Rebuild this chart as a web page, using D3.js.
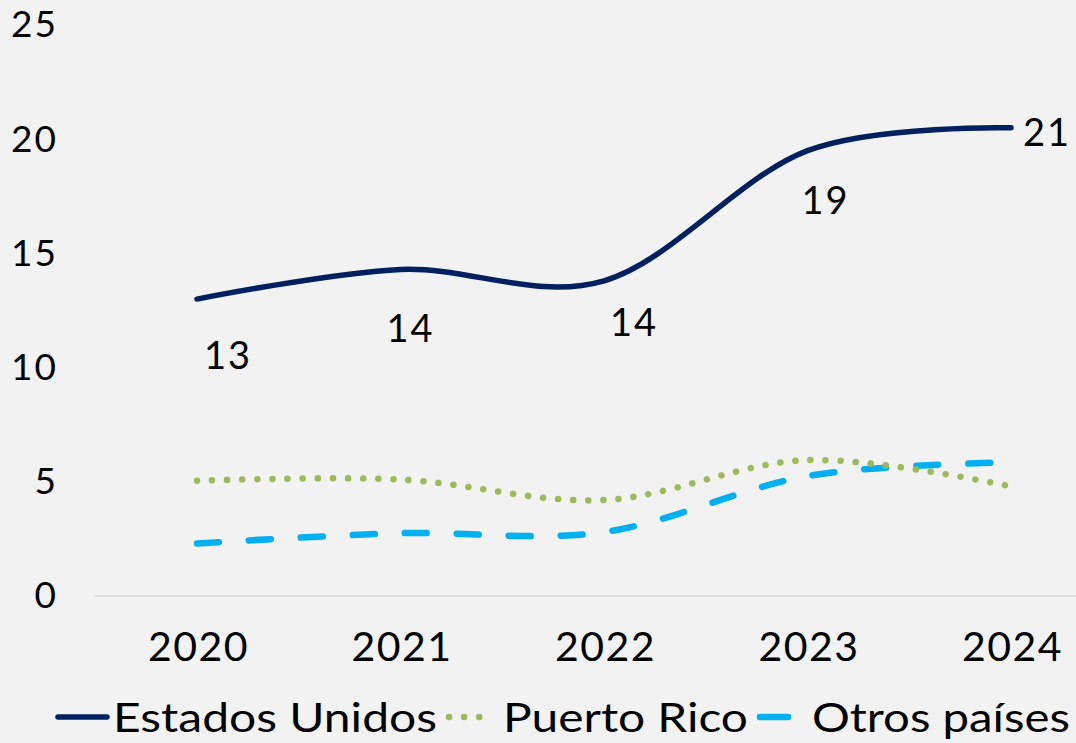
<!DOCTYPE html>
<html>
<head>
<meta charset="utf-8">
<script src="https://cdn.jsdelivr.net/npm/d3@7"></script>
<style>
  html, body { margin: 0; padding: 0; background: #f2f2f2; }
  svg { display: block; font-family: "Lato", "Noto Sans", sans-serif; }
</style>
</head>
<body>
<svg id="chart" width="1076" height="743"></svg>
<script>
const years = ["2020", "2021", "2022", "2023", "2024"];
const estadosUnidos = [13.0, 14.3, 13.8, 19.5, 20.5];
const puertoRico = [5.05, 5.1, 4.2, 5.95, 4.8];
const otrosPaises = [2.3, 2.75, 2.8, 5.25, 5.85];
const yTicks = [0, 5, 10, 15, 20, 25];
const euLabels = ["13", "14", "14", "19", "21"];

// label nudges (px), like the manually dragged excel labels
const labelOffsets = [[31, 55], [10, 58], [30, 40], [18, 48], [36, 3]];

const width = 1076, height = 743;
const svg = d3.select("#chart");

svg.append("rect").attr("width", width).attr("height", height).attr("fill", "#f2f2f2");

const x = d3.scalePoint(years, [197, 1011]);
const y = d3.scaleLinear([0, 25], [596, 25]);

// baseline
svg.append("line")
  .attr("x1", 95).attr("x2", width)
  .attr("y1", y(0)).attr("y2", y(0))
  .attr("stroke", "#d9d9d9").attr("stroke-width", 1.5);

// y axis labels
svg.append("g")
  .attr("transform", "translate(58,0)")
  .call(d3.axisLeft(y).tickValues(yTicks).tickSize(0).tickPadding(0))
  .call(g => g.select(".domain").remove())
  .call(g => g.selectAll("text")
    .attr("font-family", "Lato, sans-serif")
    .attr("font-size", 37)
    .attr("letter-spacing", 2)
    .attr("fill", "#000"));

// x axis labels
svg.append("g")
  .attr("transform", `translate(1,${y(0)})`)
  .call(d3.axisBottom(x).tickSize(0).tickPadding(36))
  .call(g => g.select(".domain").remove())
  .call(g => g.selectAll("text")
    .attr("font-family", "Lato, sans-serif")
    .attr("font-size", 41)
    .attr("letter-spacing", 1.5)
    .attr("fill", "#000"));

const line = d3.line()
  .x((d, i) => x(years[i]))
  .y(d => y(d))
  .curve(d3.curveCardinal.tension(0));

const series = [
  {name: "Estados Unidos", values: estadosUnidos, color: "#002060", dash: null},
  {name: "Puerto Rico", values: puertoRico, color: "#9bbb59", dash: "0.1 15"},
  {name: "Otros países", values: otrosPaises, color: "#00b0f0", dash: "22 30"}
];

svg.append("g")
  .attr("fill", "none")
  .attr("stroke-linecap", "round")
  .attr("stroke-linejoin", "round")
  .selectAll("path")
  .data(series.slice().reverse())
  .join("path")
    .attr("stroke", d => d.color)
    .attr("stroke-width", d => d.dash ? 6.5 : 5.5)
    .attr("stroke-dasharray", d => d.dash)
    .attr("d", d => line(d.values));

// data labels for Estados Unidos
svg.append("g")
  .selectAll("text")
  .data(estadosUnidos)
  .join("text")
    .attr("x", (d, i) => x(years[i]) + labelOffsets[i][0])
    .attr("y", (d, i) => y(d) + labelOffsets[i][1])
    .attr("text-anchor", "middle")
    .attr("dominant-baseline", "central")
    .attr("font-size", 38)
    .attr("letter-spacing", 2)
    .attr("fill", "#000")
    .text((d, i) => euLabels[i]);

// legend
const legend = [
  {s: series[0], x0: 58, x1: 107, tx: 113, tw: 324},
  {s: series[1], x0: 449, x1: 492, tx: 503, tw: 245},
  {s: series[2], x0: 760, x1: 788, tx: 812, tw: 258}
];
const ly = 717;
const lg = svg.append("g");
lg.selectAll("line")
  .data(legend)
  .join("line")
    .attr("x1", d => d.x0).attr("x2", d => d.x1)
    .attr("y1", ly).attr("y2", ly)
    .attr("stroke", d => d.s.color)
    .attr("stroke-width", d => d.s.dash ? 6.5 : 5.5)
    .attr("stroke-linecap", "round")
    .attr("stroke-dasharray", d => d.s.name === "Puerto Rico" ? "0.1 15" : null);
lg.selectAll("text")
  .data(legend)
  .join("text")
    .attr("x", d => d.tx)
    .attr("y", ly)
    .attr("dominant-baseline", "central")
    .attr("font-size", 40)
    .attr("textLength", d => d.tw)
    .attr("lengthAdjust", "spacingAndGlyphs")
    .attr("fill", "#000")
    .text(d => d.s.name);
</script>
</body>
</html>
